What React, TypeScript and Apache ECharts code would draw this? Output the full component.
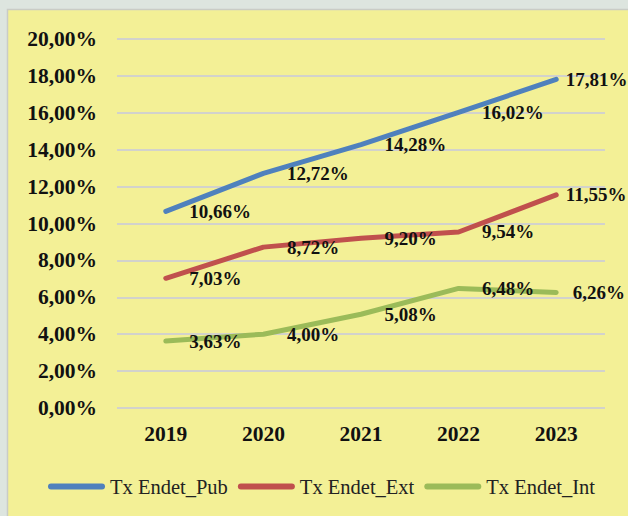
import React, { useEffect, useRef } from "react";
import * as echarts from "echarts";

const years = ["2019", "2020", "2021", "2022", "2023"];
const txPub = [10.66, 12.72, 14.28, 16.02, 17.81];
const txExt = [7.03, 8.72, 9.2, 9.54, 11.55];
const txInt = [3.63, 4.0, 5.08, 6.48, 6.26];
const seriesNames = ["Tx Endet_Pub", "Tx Endet_Ext", "Tx Endet_Int"];
const colors = ["#4F81BD", "#C0504D", "#9BBB59"];

const fmt = (v: number) => v.toFixed(2).replace(".", ",") + "%";
const FONT = "Liberation Serif";

export default function App() {
  const ref = useRef<HTMLDivElement>(null);
  useEffect(() => {
    document.body.style.margin = "0";
    if (!ref.current) return;
    const chart = echarts.init(ref.current, undefined, { renderer: "svg" });
    const mk = (name: string, vals: number[], color: string, lastDist: number) => ({
      name,
      type: "line",
      data: vals.map((v, i) =>
        i === vals.length - 1
          ? { value: v, label: { distance: lastDist } }
          : { value: v }
      ),
      showSymbol: true,
      symbol: "circle",
      symbolSize: 1,
      color,
      lineStyle: { color, width: 5, cap: "round", join: "round" },
      itemStyle: { color: "rgba(0,0,0,0)", borderWidth: 0 },
      label: {
        show: true,
        position: "right",
        distance: 23,
        formatter: (p: any) => fmt(p.value),
        fontFamily: FONT,
        fontWeight: "bold",
        fontSize: 19,
        color: "#111",
      },
      z: 3,
    });
    chart.setOption({
      animation: false,
      backgroundColor: "#DDE5DF",
      textStyle: { fontFamily: FONT },
      graphic: [
        {
          type: "rect",
          shape: { x: 7.5, y: 9.5, width: 640, height: 520 },
          style: { fill: "#F3F096", stroke: "#C9CCC6", lineWidth: 1.5 },
          z: -10,
          silent: true,
        },
      ],
      grid: { left: 117, right: 23, top: 39, bottom: 108 },
      xAxis: {
        type: "category",
        data: years,
        boundaryGap: true,
        axisLine: { show: false },
        axisTick: { show: false },
        axisLabel: {
          margin: 15,
          fontFamily: FONT,
          fontWeight: "bold",
          fontSize: 21.5,
          color: "#111",
        },
      },
      yAxis: {
        type: "value",
        min: 0,
        max: 20,
        interval: 2,
        axisLine: { show: false },
        axisTick: { show: false },
        splitLine: { lineStyle: { color: "#D2D2CC", width: 2 } },
        axisLabel: {
          margin: 20,
          formatter: (v: number) => fmt(v),
          fontFamily: FONT,
          fontWeight: "bold",
          fontSize: 21.5,
          color: "#111",
        },
      },
      legend: {
        left: 48,
        top: 476,
        padding: 0,
        itemWidth: 57,
        itemHeight: 6,
        itemGap: 10,
        icon: "path://M3,0 L54,0 A3,3 0 0 1 54,6 L3,6 A3,3 0 0 1 3,0 Z",
        textStyle: { fontFamily: FONT, fontSize: 20.5, color: "#222" },
        data: seriesNames.map((n, i) => ({ name: n, itemStyle: { color: colors[i], opacity: 1 } })),
      },
      series: [
        mk(seriesNames[0], txPub, colors[0], 9),
        mk(seriesNames[1], txExt, colors[1], 9),
        mk(seriesNames[2], txInt, colors[2], 16),
      ],
    });
    return () => chart.dispose();
  }, []);
  return <div ref={ref} style={{ width: 628, height: 516 }} />;
}
